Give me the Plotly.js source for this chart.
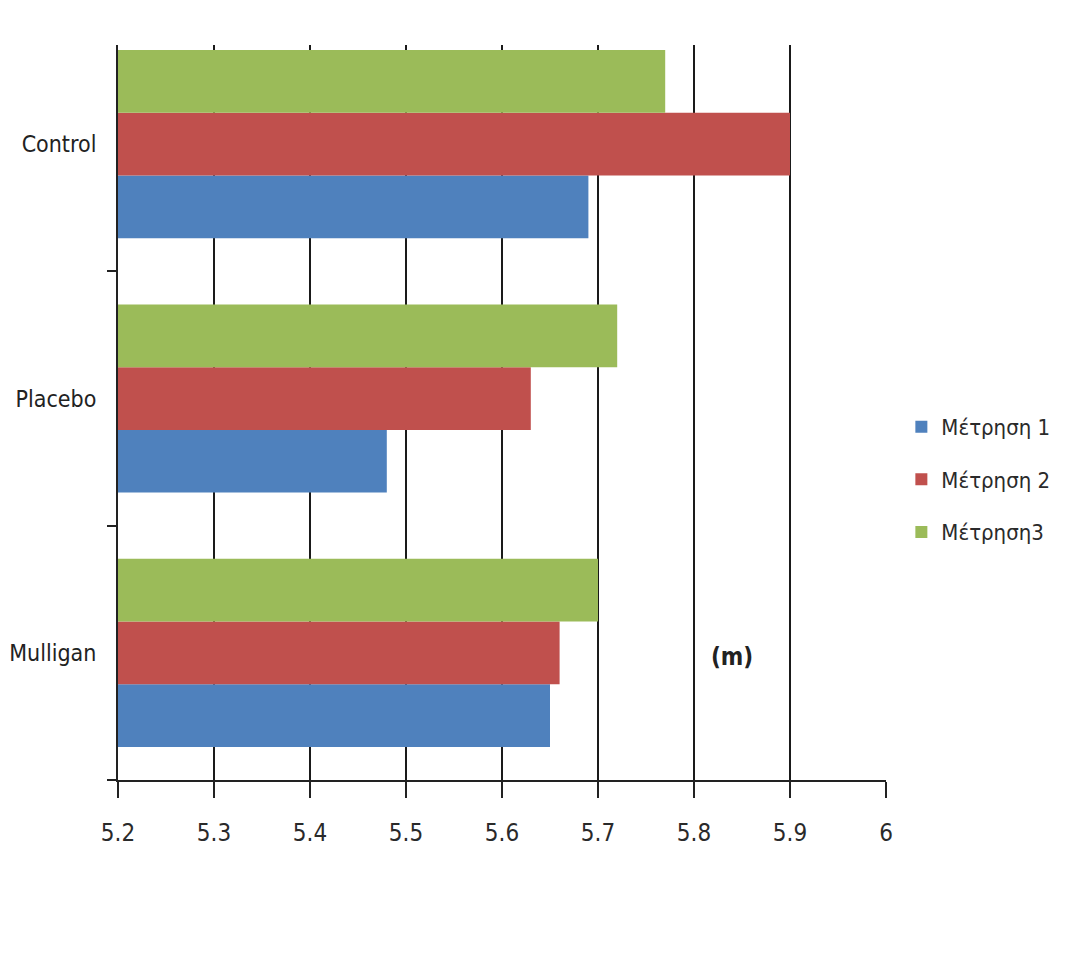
<!DOCTYPE html>
<html>
<head>
<meta charset="utf-8">
<script src="https://cdn.plot.ly/plotly-3.0.1.min.js"></script>
<style>html,body{margin:0;padding:0;background:#fff;}#chart{width:1076px;height:972px;}</style>
</head>
<body>
<div id="chart"></div>
<script>
const categories = ["Mulligan", "Placebo", "Control"];
const seriesNames = ["Μέτρηση 1", "Μέτρηση 2", "Μέτρηση3"];
const metrisi1 = [5.65, 5.48, 5.69];
const metrisi2 = [5.66, 5.63, 5.90];
const metrisi3 = [5.70, 5.72, 5.77];
const xTicks = [5.2, 5.3, 5.4, 5.5, 5.6, 5.7, 5.8, 5.9, 6];
const xTickLabels = ["5.2", "5.3", "5.4", "5.5", "5.6", "5.7", "5.8", "5.9", "6"];
const colors = ["#4F81BD", "#C0504D", "#9BBB59"];
const unitLabel = "(m)";

const fontFam = "DejaVu Sans Condensed, Liberation Sans Narrow, sans-serif";
const series = [metrisi1, metrisi2, metrisi3];
const traces = series.map((vals, i) => ({
  type: "bar",
  orientation: "h",
  name: seriesNames[i],
  legendgroup: "g" + i,
  y: categories,
  x: vals,
  base: 0,
  marker: {color: colors[i], line: {width: 0}},
  hoverinfo: "x+name"
}));

const layout = {
  width: 1076, height: 972,
  margin: {l: 118, r: 190, t: 45, b: 192},
  paper_bgcolor: "#fff", plot_bgcolor: "#fff",
  barmode: "group", bargap: 0.26, bargroupgap: 0,
  font: {family: fontFam, size: 23, color: "#222"},
  xaxis: {
    range: [5.2, 6.0],
    tickvals: xTicks, ticktext: xTickLabels,
    showgrid: true, gridcolor: "#1a1a1a", gridwidth: 1.5,
    zeroline: false,
    showline: true, linecolor: "#222", linewidth: 2,
    ticks: "outside", ticklen: 16, tickwidth: 1.5, tickcolor: "#222",
    tickfont: {family: fontFam, size: 24, color: "#2a2a2a"},
    ticklabelstandoff: 14,
    fixedrange: true
  },
  yaxis: {
    type: "category",
    range: [-0.5, 2.39],
    showgrid: false, zeroline: false,
    showline: true, linecolor: "#222", linewidth: 2,
    ticks: "outside", tickson: "boundaries", ticklen: 9, tickwidth: 2, tickcolor: "#222",
    tickfont: {family: fontFam, size: 23, color: "#222"},
    ticklabelstandoff: 15,
    fixedrange: true
  },
  legend: {
    x: 1.02, xanchor: "left", y: 0.509, yanchor: "top",
    font: {family: fontFam, size: 22, color: "#2a2a2a"},
    traceorder: "grouped", tracegroupgap: 21,
    itemwidth: 30, bgcolor: "rgba(0,0,0,0)"
  },
  annotations: [{
    text: "<b>" + unitLabel + "</b>", xref: "x", yref: "paper",
    x: 5.84, y: 0.145, showarrow: false,
    font: {family: fontFam, size: 24, color: "#222"}
  }]
};

Plotly.newPlot("chart", traces, layout, {staticPlot: true, displayModeBar: false});
</script>
</body>
</html>
